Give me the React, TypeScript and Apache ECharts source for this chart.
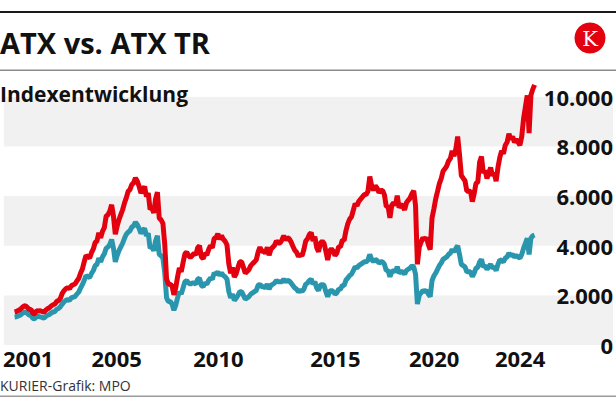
import React, { useEffect, useRef } from 'react';
import * as echarts from 'echarts';

// Monthly values, first point = November 2001
const startYear = 2001;
const startMonth = 11;

// ATX (blue)
const atx = [
  1130, 1140,
  1170, 1200, 1260, 1310, 1330, 1270, 1200, 1200, 1070, 1060, 1160, 1150,
  1130, 1110, 1080, 1150, 1200, 1230, 1290, 1330, 1350, 1440, 1470, 1545,
  1650, 1740, 1800, 1830, 1800, 1900, 1930, 1950, 2050, 2130, 2290, 2430,
  2600, 2800, 2750, 2720, 2880, 3000, 3200, 3250, 3500, 3350, 3550, 3670,
  3900, 3950, 4050, 4250, 3900, 3350, 3600, 3800, 3950, 4100, 4300, 4460,
  4550, 4600, 4750, 4800, 4950, 4850, 4700, 4500, 4600, 4700, 4400, 4500,
  3900, 3950, 3800, 4200, 4400, 3650, 3600, 3500, 2900, 1900, 1750, 1750,
  1650, 1400, 1600, 1900, 2150, 2050, 2300, 2550, 2600, 2500, 2450, 2500,
  2500, 2450, 2650, 2700, 2400, 2350, 2500, 2450, 2600, 2700, 2650, 2900,
  2850, 2950, 2800, 2900, 2800, 2750, 2650, 2150, 1900, 2050, 1800, 1890,
  2000, 2150, 2150, 2000, 1850, 1900, 1950, 2050, 2100, 2150, 2200, 2400,
  2450, 2350, 2350, 2300, 2450, 2250, 2400, 2450, 2500, 2600, 2550, 2550,
  2550, 2650, 2550, 2600, 2580, 2500, 2400, 2300, 2250, 2150, 2200, 2160,
  2250, 2450, 2500, 2600, 2650, 2450, 2550, 2300, 2200, 2400, 2450, 2400,
  2150, 1950, 2150, 2200, 2150, 2050, 2100, 2250, 2250, 2400, 2400, 2620,
  2700, 2800, 2850, 3000, 3150, 3100, 3200, 3250, 3300, 3350, 3350, 3420,
  3650, 3450, 3350, 3450, 3400, 3300, 3350, 3350, 3250, 3000, 3000, 2750,
  2950, 3000, 2950, 3150, 2900, 2950, 2950, 2850, 3000, 3050, 3100, 3190,
  3150, 2850, 1650, 2000, 2100, 2200, 2150, 2200, 2050, 1950, 2600, 2780,
  2900, 3050, 3200, 3300, 3450, 3500, 3550, 3650, 3700, 3850, 3750, 3890,
  4000, 3650, 3250, 3200, 3150, 2950, 2950, 2950, 2750, 2900, 3100, 3130,
  3350, 3450, 3150, 3200, 3050, 3150, 3250, 3100, 3150, 3000, 3250, 3430,
  3400, 3350, 3500, 3550, 3700, 3600, 3650, 3550, 3600, 3550, 3500, 3650,
  3900, 4100, 4300, 3650, 4300, 4400, 4430,
];

// ATX TR (red)
const atxTr = [
  1330, 1350,
  1390, 1430, 1500, 1560, 1580, 1510, 1430, 1430, 1270, 1260, 1380, 1370,
  1380, 1350, 1320, 1400, 1460, 1500, 1570, 1620, 1650, 1760, 1790, 1880,
  2080, 2190, 2270, 2310, 2270, 2390, 2430, 2460, 2580, 2680, 2890, 3060,
  3350, 3610, 3550, 3510, 3720, 3870, 4130, 4190, 4520, 4320, 4580, 4730,
  5190, 5250, 5390, 5650, 5190, 4460, 4790, 5050, 5250, 5450, 5720, 5930,
  6190, 6260, 6460, 6530, 6730, 6600, 6390, 6120, 6260, 6390, 5980, 6120,
  5460, 5530, 5320, 5880, 6160, 5110, 5040, 4900, 4060, 2660, 2450, 2450,
  2380, 2020, 2300, 2740, 3100, 2950, 3310, 3670, 3740, 3600, 3530, 3600,
  3700, 3630, 3920, 4000, 3550, 3480, 3700, 3630, 3850, 4000, 3920, 4290,
  4330, 4480, 4260, 4410, 4260, 4180, 4030, 3270, 2890, 3120, 2740, 2870,
  3120, 3350, 3350, 3120, 2890, 2960, 3040, 3200, 3280, 3350, 3430, 3740,
  3940, 3780, 3780, 3700, 3940, 3620, 3860, 3940, 4020, 4190, 4110, 4110,
  4230, 4400, 4230, 4320, 4280, 4150, 3980, 3820, 3740, 3570, 3650, 3590,
  3850, 4190, 4280, 4450, 4530, 4190, 4360, 3930, 3760, 4100, 4190, 4100,
  3780, 3430, 3780, 3870, 3780, 3610, 3700, 3960, 3960, 4220, 4220, 4610,
  4890, 5070, 5160, 5430, 5700, 5610, 5790, 5880, 5970, 6060, 6060, 6190,
  6790, 6420, 6230, 6420, 6320, 6140, 6230, 6230, 6050, 5580, 5580, 5120,
  5630, 5730, 5630, 6020, 5540, 5630, 5630, 5440, 5730, 5830, 5920, 6090,
  6210, 5610, 3250, 3940, 4140, 4330, 4240, 4330, 4040, 3840, 5120, 5480,
  5890, 6190, 6500, 6700, 7000, 7100, 7210, 7410, 7510, 7820, 7610, 7900,
  8400, 7670, 6830, 6720, 6620, 6200, 6200, 6200, 5780, 6090, 6510, 6570,
  7370, 7590, 6930, 7040, 6710, 6930, 7150, 6820, 6930, 6600, 7150, 7550,
  7820, 7710, 8050, 8170, 8510, 8280, 8400, 8170, 8280, 8170, 8050, 8400,
  9130, 9590, 10060, 8540, 10060, 10300, 10480,
];

// x-axis tick labels and where they sit on the (decimal year) axis
const xTickLabels = ['2001', '2005', '2010', '2015', '2020', '2024'];
const xTickAt = [2002.45, 2006.48, 2011.11, 2016.43, 2020.93, 2024.84];

const FONT = '"Open Sans", "Noto Sans", sans-serif';

const toPairs = (arr: number[]) =>
  arr.map((v, i) => [startYear + (startMonth - 1 + i) / 12, v]);

const fmtThousands = (v: number) =>
  String(v).replace(/\B(?=(\d{3})+(?!\d))/g, '.');

export default function App() {
  const ref = useRef<HTMLDivElement>(null);
  useEffect(() => {
    if (!ref.current) return;
    const chart = echarts.init(ref.current, undefined, { renderer: 'svg' });
    chart.setOption({
      animation: false,
      backgroundColor: '#ffffff',
      grid: { left: 3, right: 3, top: 72, bottom: 53, containLabel: false },
      xAxis: {
        type: 'value',
        min: 2001.34,
        max: 2029.07,
        axisLine: { show: false },
        axisTick: { show: false },
        splitLine: { show: false },
        axisLabel: {
          customValues: xTickAt,
          formatter: (v: number) => {
            const i = xTickAt.findIndex((p) => Math.abs(p - v) < 0.01);
            return i >= 0 ? xTickLabels[i] : '';
          },
          fontSize: 22,
          fontWeight: 'bold',
          fontFamily: FONT,
          color: '#111',
          margin: 2,
        },
      },
      yAxis: {
        type: 'value',
        position: 'right',
        min: 0,
        max: 11000,
        interval: 2000,
        axisLine: { show: false },
        axisTick: { show: false },
        splitLine: { show: false },
        splitArea: { show: true, areaStyle: { color: ['#f1f1f1', '#ffffff'] } },
        axisLabel: {
          inside: true,
          margin: 0,
          showMaxLabel: false,
          formatter: (v: number) => (v > 10000 ? '' : fmtThousands(v)),
          fontSize: 22,
          fontWeight: 'bold',
          fontFamily: FONT,
          color: '#111',
          padding: [0, 0, 3, 0],
        },
      },
      series: [
        {
          name: 'ATX',
          type: 'line',
          data: toPairs(atx),
          showSymbol: false,
          lineStyle: { color: '#2a96ae', width: 5 },
          itemStyle: { color: '#2a96ae' },
          z: 2,
        },
        {
          name: 'ATX TR',
          type: 'line',
          data: toPairs(atxTr),
          showSymbol: false,
          lineStyle: { color: '#e3000f', width: 5 },
          itemStyle: { color: '#e3000f' },
          z: 3,
        },
      ],
      graphic: [
        { type: 'rect', z: 100, shape: { x: 0, y: 11, width: 616, height: 2 }, style: { fill: '#1a1a1a' } },
        { type: 'rect', z: 100, shape: { x: 0, y: 69.5, width: 616, height: 1.5 }, style: { fill: '#8c8c8c' } },
        { type: 'rect', z: 100, shape: { x: 0, y: 395.5, width: 616, height: 1.5 }, style: { fill: '#9a9a9a' } },
        {
          type: 'text', z: 100, x: 0, y: 42,
          style: { text: 'ATX vs. ATX TR', fontSize: 29, fontWeight: 'bold', fontFamily: FONT, fill: '#111', verticalAlign: 'middle' },
        },
        {
          type: 'text', z: 100, x: 0, y: 94,
          style: { text: 'Indexentwicklung', fontSize: 21, fontWeight: 'bold', fontFamily: FONT, fill: '#111', verticalAlign: 'middle' },
        },
        {
          type: 'text', z: 100, x: 0, y: 385,
          style: { text: 'KURIER-Grafik: MPO', fontSize: 14, fontFamily: FONT, fill: '#333', verticalAlign: 'middle' },
        },
        { type: 'circle', z: 100, shape: { cx: 590, cy: 38, r: 15.5 }, style: { fill: '#e3000f' } },
        {
          type: 'text', z: 101, x: 590, y: 39,
          style: { text: 'K', fontSize: 21, fontFamily: '"DejaVu Serif", "Liberation Serif", serif', fill: '#ffffff', align: 'center', verticalAlign: 'middle' },
        },
      ],
    });
    return () => chart.dispose();
  }, []);
  return (
    <div
      ref={ref}
      style={{ position: 'absolute', left: 0, top: 0, width: 616, height: 398 }}
    />
  );
}
